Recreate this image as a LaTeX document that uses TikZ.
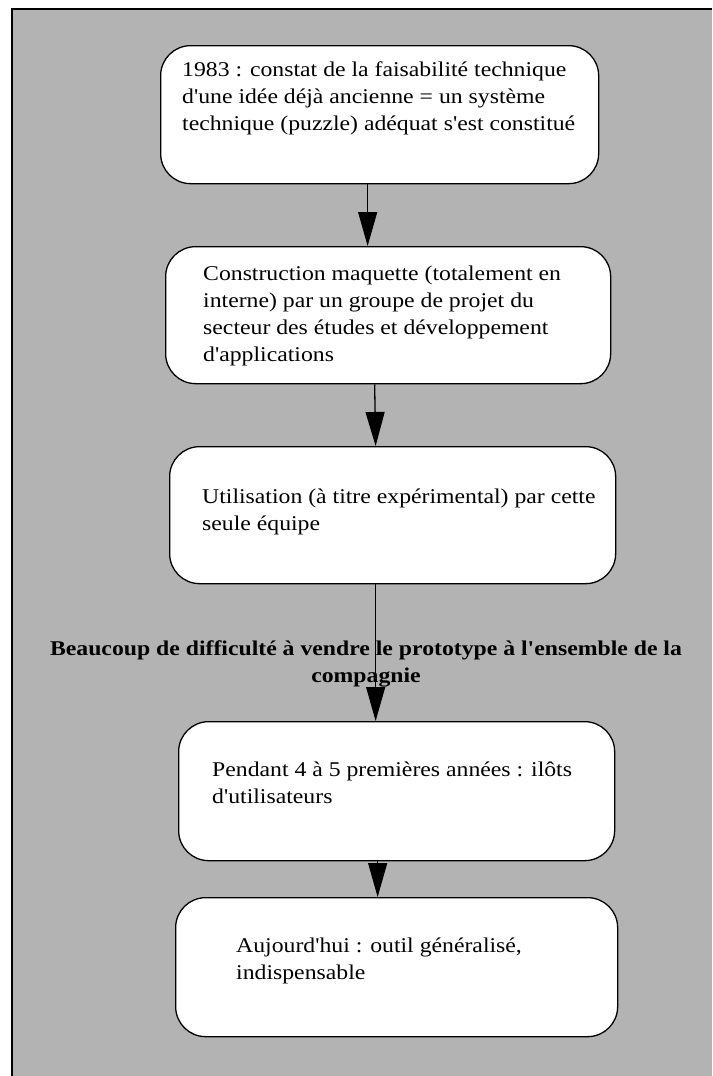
\documentclass[tikz,border=0pt]{standalone}
\usepackage{fontspec}
\setmainfont{Liberation Serif}[FakeStretch=1.13, Ligatures=TeXOff]
\usetikzlibrary{arrows.meta}
\definecolor{fond}{RGB}{179,179,179}
\tikzstyle{etape} = [rectangle, rounded corners=30pt, draw=black, fill=white, line width=1.3pt, anchor=north west, inner sep=0pt]
\tikzstyle{texte} = [anchor=north west, align=left, inner sep=0pt, font=\fontsize{21}{27}\selectfont]
\tikzstyle{etiquette} = [anchor=north, align=center, inner sep=0pt, font=\fontsize{21}{27}\selectfont\bfseries]
\tikzstyle{arrow} = [-{Triangle[length=34pt,width=19pt]}, line width=1.3pt]

\begin{document}
\begin{tikzpicture}[x=1pt,y=-1pt]
\useasboundingbox (0,0) rectangle (712,1076);
%fond gris
\fill [fond] (12,9) rectangle (712,1076);
\draw [line width=1.5pt] (12,1076) -- (12,9) -- (712,9);

%etapes
\node (e1) [etape, minimum width=438pt, minimum height=138pt] at (160,45) {};
\node (e2) [etape, minimum width=445pt, minimum height=137pt] at (165,246) {};
\node (e3) [etape, minimum width=446pt, minimum height=137pt] at (169,446) {};
\node (e4) [etape, minimum width=436pt, minimum height=139pt] at (178,721) {};
\node (e5) [etape, minimum width=442pt, minimum height=139pt] at (175,897) {};

%textes
\node (t1) [texte] at ([shift={(22,12)}]e1.north west) {\strut1983 : constat de la faisabilité technique\\d'une idée déjà ancienne = un système\\technique (puzzle) adéquat s'est constitué};
\node (t2) [texte] at ([shift={(38,15)}]e2.north west) {\strut Construction maquette (totalement en\\interne) par un groupe de projet du\\secteur des études et développement\\d'applications};
\node (t3) [texte] at ([shift={(33,38)}]e3.north west) {\strut Utilisation (à titre expérimental) par cette\\seule équipe};
\node (t4) [texte] at ([shift={(34,36)}]e4.north west) {\strut Pendant 4 à 5 premières années : ilôts\\d'utilisateurs};
\node (t5) [texte] at ([shift={(61,36)}]e5.north west) {\strut Aujourd'hui : outil généralisé,\\indispensable};

%fleches
\draw [arrow] ([xshift=-12pt]e1.south) -- ([xshift=-20.5pt]e2.north);
\draw [arrow] ([xshift=-13.5pt]e2.south) -- ([xshift=-17pt]e3.north);
\draw [arrow] ([xshift=-17pt]e3.south) -- ([xshift=-21pt]e4.north);
\draw [arrow] ([xshift=-19pt]e4.south) -- ([xshift=-19pt]e5.north);
\node (lbl) [etiquette] at (366,636) {\strut Beaucoup de difficulté à vendre le prototype à l'ensemble de la\\compagnie};
\end{tikzpicture}
\end{document}
